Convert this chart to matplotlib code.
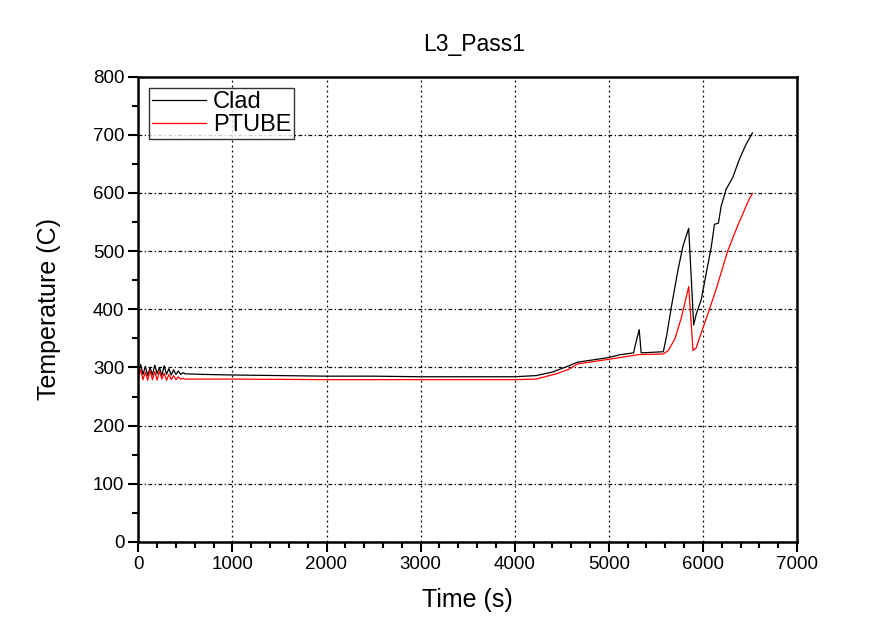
import matplotlib
matplotlib.use("Agg")
import matplotlib.pyplot as plt
from matplotlib.ticker import MultipleLocator

plt.rcParams['font.family'] = ['Liberation Sans', 'DejaVu Sans']

clad_t = [0, 25, 50, 75, 100, 125, 150, 175, 200, 225, 250, 275, 300, 325, 350, 375, 400, 425, 450, 475, 500,
          700, 1000, 1500, 2000, 2500, 3000, 3500, 4000, 4228, 4400, 4579, 4667, 5000, 5123, 5263, 5281, 5323,
          5344, 5579, 5614, 5667, 5737, 5789, 5849, 5902, 5930, 5983, 6053, 6088, 6123, 6165, 6194, 6246, 6316,
          6386, 6457, 6526]
clad_T = [290, 305, 288, 302, 286, 300, 287, 304, 289, 300, 286, 303, 288, 298, 287, 296, 288, 294, 288, 291, 289,
          288, 287, 286, 285, 285, 284, 284, 284, 286, 292, 303, 309, 317, 322, 325, 338, 365,
          325, 327, 354, 406, 469, 509, 539, 373, 392, 417, 477, 506, 546, 548, 577, 606, 626,
          657, 683, 703]

ptube_t = [0, 25, 50, 75, 100, 125, 150, 175, 200, 225, 250, 275, 300, 325, 350, 375, 400, 425, 450, 475, 500,
           700, 1000, 2000, 3000, 4000, 4228, 4439, 4579, 4667, 5000, 5316, 5579, 5632, 5702, 5772, 5849, 5895,
           5930, 5983, 6053, 6140, 6263, 6368, 6491, 6526]
ptube_T = [282, 296, 279, 292, 278, 295, 279, 293, 278, 294, 280, 290, 278, 288, 279, 286, 279, 284, 280, 281, 280,
           280, 280, 279, 279, 279, 280, 289, 297, 306, 314, 322, 323, 329, 349, 386, 439, 329,
           334, 360, 392, 434, 500, 543, 589, 599]

fig = plt.figure(figsize=(8.79, 6.41), dpi=100)
ax = fig.add_axes([138.3 / 879, 1 - 542 / 641, (797 - 138.3) / 879, (542 - 76.5) / 641])

ax.plot(clad_t, clad_T, color='black', lw=0.9, label='Clad')
ax.plot(ptube_t, ptube_T, color='red', lw=0.9, label='PTUBE')

ax.set_xlim(0, 7000)
ax.set_ylim(0, 800)
ax.xaxis.set_major_locator(MultipleLocator(1000))
ax.xaxis.set_minor_locator(MultipleLocator(200))
ax.yaxis.set_major_locator(MultipleLocator(100))
ax.yaxis.set_minor_locator(MultipleLocator(50))
ax.tick_params(which='major', direction='out', length=7, width=1.5, labelsize=13.5, pad=3)
ax.tick_params(which='minor', direction='out', length=4, width=1.5)
ax.tick_params(top=False, right=False)
for s in ax.spines.values():
    s.set_linewidth(1.8)

ax.xaxis.grid(True, which='major', color='black', linestyle=(0, (1.5, 2.5)), lw=0.9)
ax.yaxis.grid(True, which='major', color='black', linestyle=(0, (3, 2, 1, 2)), lw=0.9)

ax.set_title('L3_Pass1', fontsize=16.5, pad=18, x=(474 - 138.3) / 658.7)
ax.set_xlabel('Time (s)', fontsize=18, labelpad=11)
ax.set_ylabel('Temperature (C)', fontsize=18, labelpad=23)

leg = ax.legend(loc='upper left', bbox_to_anchor=(0.016, 0.975), fontsize=17, frameon=True, fancybox=False,
                edgecolor='black', handlelength=2.3, handletextpad=0.3, borderpad=0.12, labelspacing=0.05,
                borderaxespad=0)
leg.get_frame().set_linewidth(1.0)

fig.savefig('out.png', dpi=100)
